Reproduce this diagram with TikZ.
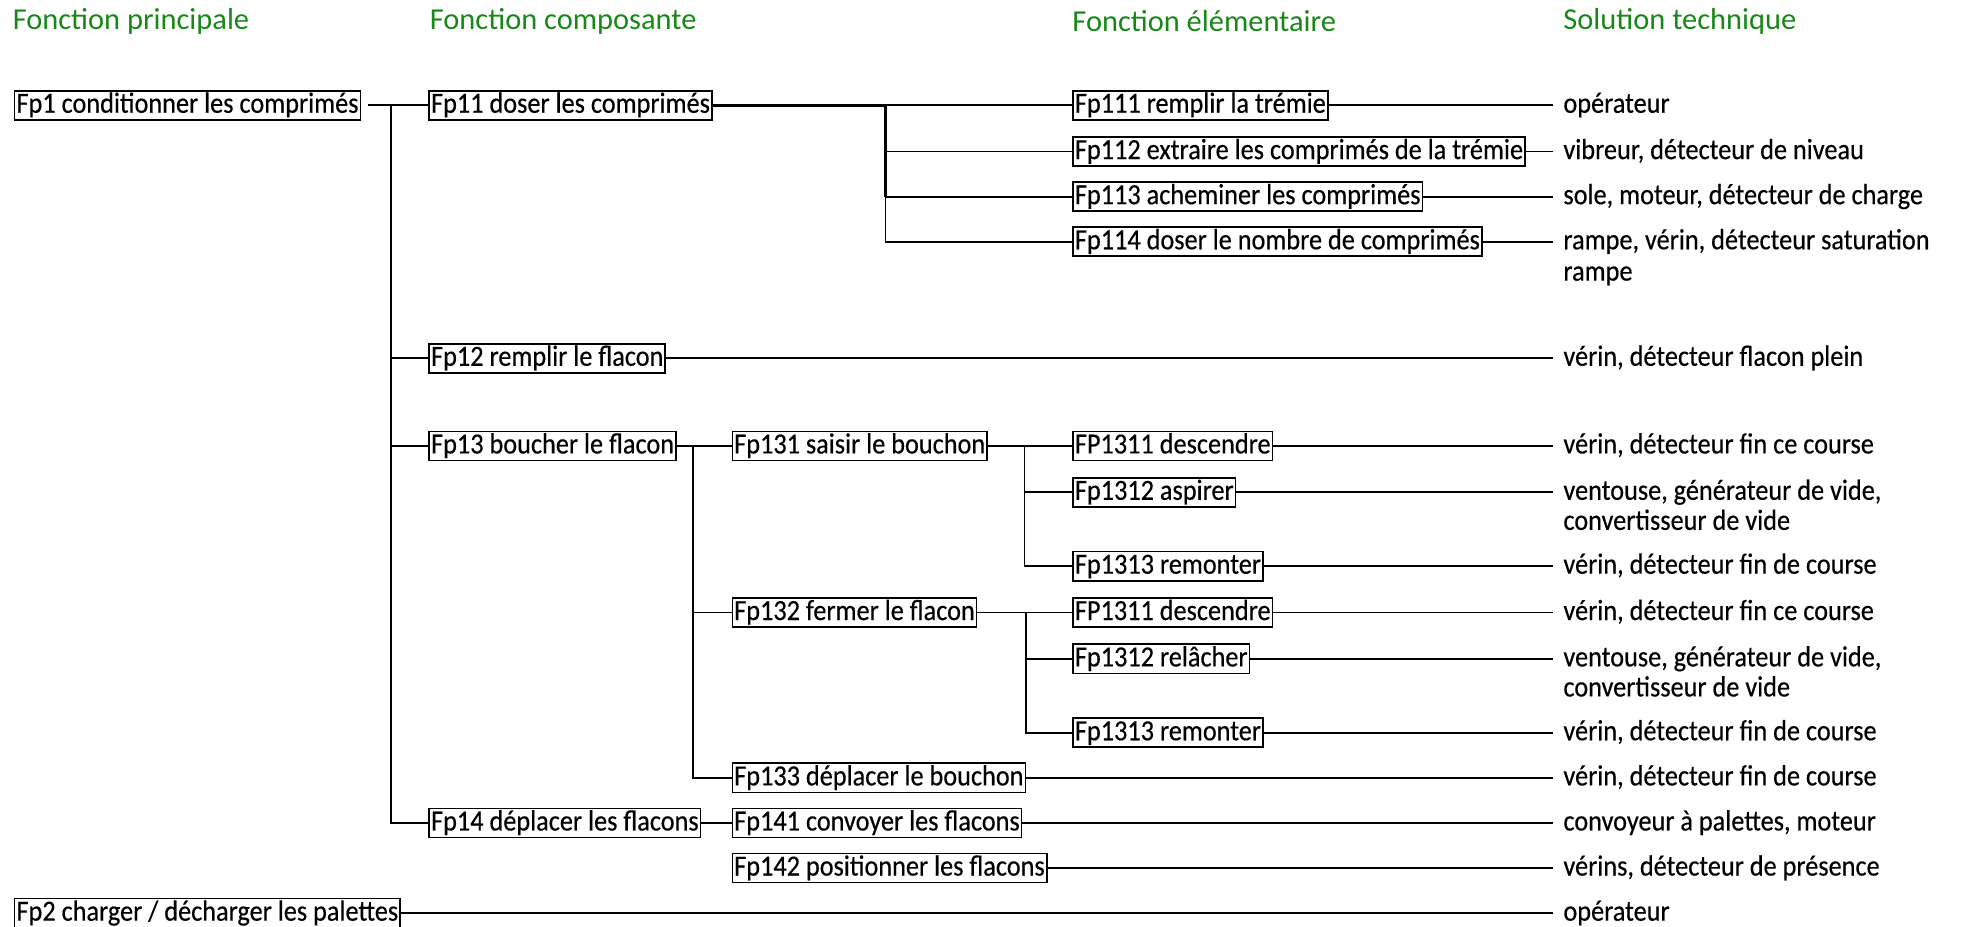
\documentclass[tikz,border=0pt]{standalone}
\usepackage{fontspec}
\setmainfont{Carlito}
\newfontfamily\boxfont[FakeStretch=0.9,FakeBold=0.4]{Carlito}
\definecolor{headgreen}{RGB}{24,136,24}
\begin{document}
\begin{tikzpicture}[x=1pt,y=-1pt,
  head/.style={anchor=west,inner sep=0pt,text=headgreen,
    font=\fontsize{24.3}{29}\selectfont},
  fbox/.style={draw,line width=1.35pt,anchor=west,inner xsep=1.5pt,inner ysep=0.6pt,
    text height=17pt,text depth=5pt,font=\boxfont\fontsize{23.3}{27}\selectfont},
  sol/.style={anchor=west,inner xsep=8pt,inner ysep=0.6pt,
    text height=17pt,text depth=5pt,font=\boxfont\fontsize{23.3}{27}\selectfont},
  link/.style={line width=1.35pt},
  boldlink/.style={line width=2.6pt}]
\useasboundingbox (0,0) rectangle (1568,740);

% column headings
\node[head] (h1) at (10,17) {Fonction principale};
\node[head] (h2) at (343,17) {Fonction composante};
\node[head] (h3) at (856,17) {Fonction élémentaire};
\node[head] (h4) at (1248,17) {Solution technique};

% functions
\node[fbox] (fp1)  at (11,84)  {Fp1 conditionner les comprimés};
\node[fbox] (fp11) at (342,84) {Fp11 doser les comprimés};
\node[fbox] (fp111) at (856,84)  {Fp111 remplir la trémie};
\node[fbox] (fp112) at (856,121) {Fp112 extraire les comprimés de la trémie};
\node[fbox] (fp113) at (856,157) {Fp113 acheminer les comprimés};
\node[fbox] (fp114) at (856,193) {Fp114 doser le nombre de comprimés};
\node[fbox] (fp12) at (342,286) {Fp12 remplir le flacon};
\node[fbox] (fp13) at (342,356) {Fp13 boucher le flacon};
\node[fbox] (fp131) at (584,356) {Fp131 saisir le bouchon};
\node[fbox] (fp1311a) at (856,356) {FP1311 descendre};
\node[fbox] (fp1312a) at (856,393) {Fp1312 aspirer};
\node[fbox] (fp1313a) at (856,452) {Fp1313 remonter};
\node[fbox] (fp132) at (584,489) {Fp132 fermer le flacon};
\node[fbox] (fp1311b) at (856,489) {FP1311 descendre};
\node[fbox] (fp1312b) at (856,526) {Fp1312 relâcher};
\node[fbox] (fp1313b) at (856,585) {Fp1313 remonter};
\node[fbox] (fp133) at (584,621) {Fp133 déplacer le bouchon};
\node[fbox] (fp14) at (342,657) {Fp14 déplacer les flacons};
\node[fbox] (fp141) at (584,657) {Fp141 convoyer les flacons};
\node[fbox] (fp142) at (584,693) {Fp142 positionner les flacons};
\node[fbox] (fp2) at (11,729) {Fp2 charger / décharger les palettes};

% technical solutions
\node[sol] (s111) at (1240,84)  {opérateur};
\node[sol] (s112) at (1240,121) {vibreur, détecteur de niveau};
\node[sol] (s113) at (1240,157) {sole, moteur, détecteur de charge};
\node[sol] (s114) at (1240,193) {rampe, vérin, détecteur saturation};
\node[sol] (s114b) at (1240,218) {rampe};
\node[sol] (s12) at (1240,286) {vérin, détecteur flacon plein};
\node[sol] (s1311a) at (1240,356) {vérin, détecteur fin ce course};
\node[sol] (s1312a) at (1240,393) {ventouse, générateur de vide,};
\node[sol] (s1312ab) at (1240,417) {convertisseur de vide};
\node[sol] (s1313a) at (1240,452) {vérin, détecteur fin de course};
\node[sol] (s1311b) at (1240,489) {vérin, détecteur fin ce course};
\node[sol] (s1312b) at (1240,526) {ventouse, générateur de vide,};
\node[sol] (s1312bb) at (1240,550) {convertisseur de vide};
\node[sol] (s1313b) at (1240,585) {vérin, détecteur fin de course};
\node[sol] (s133) at (1240,621) {vérin, détecteur fin de course};
\node[sol] (s141) at (1240,657) {convoyeur à palettes, moteur};
\node[sol] (s142) at (1240,693) {vérins, détecteur de présence};
\node[sol] (s2) at (1240,729) {opérateur};

% bus points
\coordinate (b1) at (312,84);
\coordinate (b11) at (707,84);
\coordinate (b13) at (553,356);
\coordinate (b131) at (818,356);
\coordinate (b132) at (819,489);

% Fp1 tree
\draw[link,shorten <=5pt] (fp1.east) -- (fp11.west);
\draw[link] (b1) |- (fp14.west);
\draw[link] (b1 |- fp12.west) -- (fp12.west);
\draw[link] (b1 |- fp13.west) -- (fp13.west);

% Fp11 tree
\draw[boldlink] (fp11.east) -- (b11) -- (b11 |- fp113.west);
\draw[link] (b11) |- (fp114.west);
\draw[link] (b11) -- (fp111.west);
\draw[link] (b11 |- fp112.west) -- (fp112.west);
\draw[link] (b11 |- fp113.west) -- (fp113.west);

% Fp13 tree
\draw[link] (fp13.east) -- (fp131.west);
\draw[link] (b13) |- (fp133.west);
\draw[link] (b13 |- fp132.west) -- (fp132.west);
\draw[link] (fp131.east) -- (fp1311a.west);
\draw[link] (b131) |- (fp1313a.west);
\draw[link] (b131 |- fp1312a.west) -- (fp1312a.west);
\draw[link] (fp132.east) -- (fp1311b.west);
\draw[link] (b132) |- (fp1313b.west);
\draw[link] (b132 |- fp1312b.west) -- (fp1312b.west);

% Fp14 tree
\draw[link] (fp14.east) -- (fp141.west);

% to technical solutions
\foreach \f/\s in {fp111/s111,fp112/s112,fp113/s113,fp114/s114,fp12/s12,
  fp1311a/s1311a,fp1312a/s1312a,fp1313a/s1313a,fp1311b/s1311b,fp1312b/s1312b,
  fp1313b/s1313b,fp133/s133,fp141/s141,fp142/s142,fp2/s2}
  \draw[link] (\f.east) -- (\s.west);
\end{tikzpicture}
\end{document}
